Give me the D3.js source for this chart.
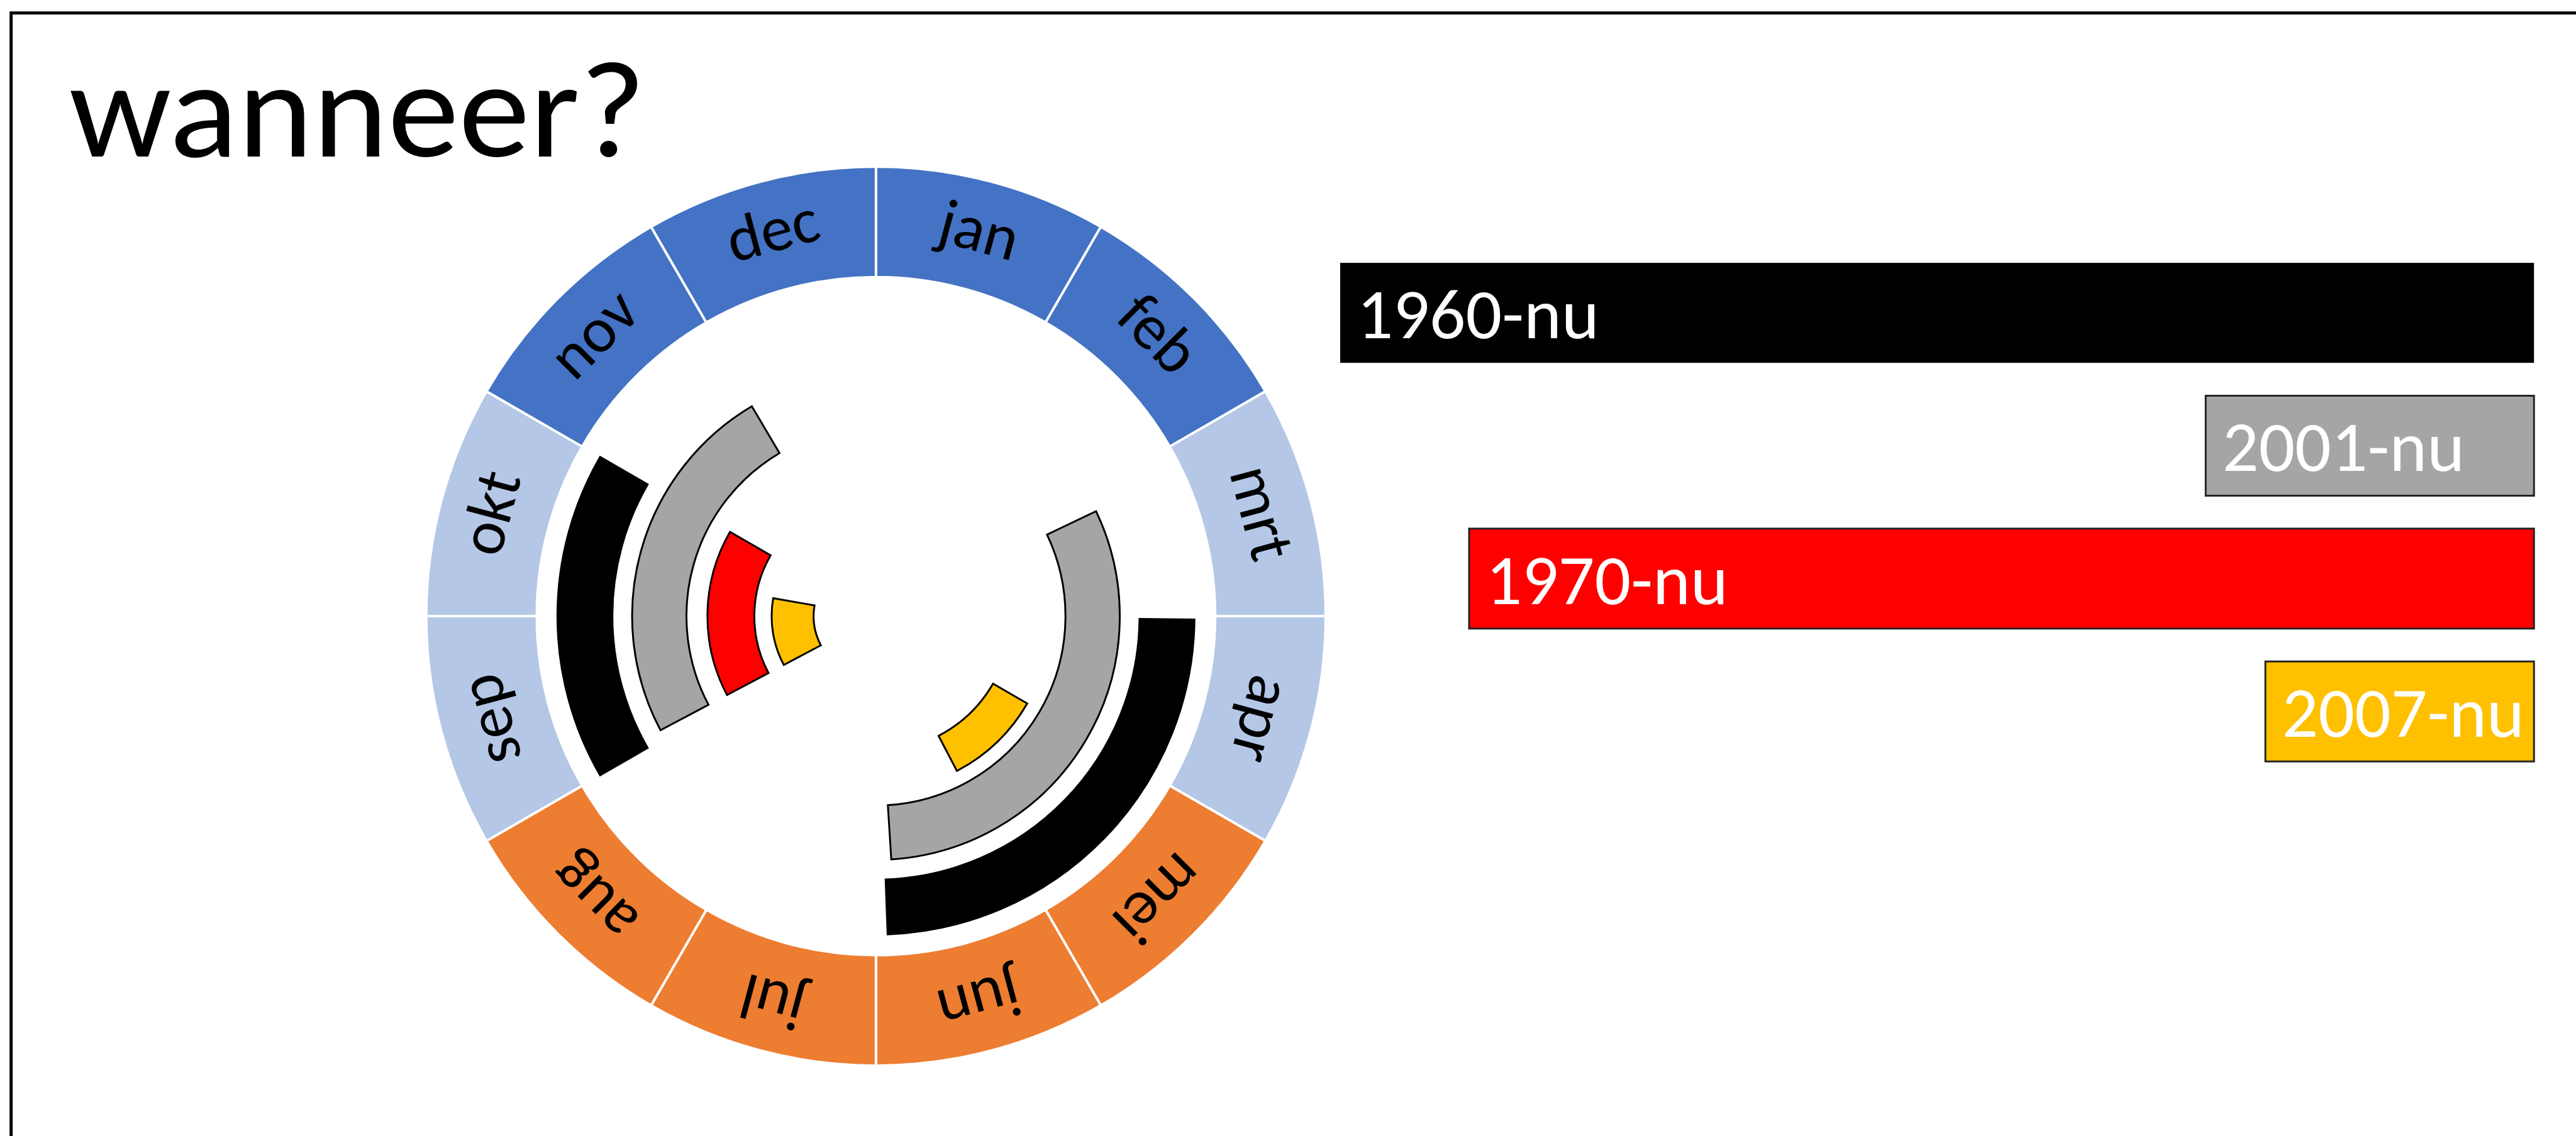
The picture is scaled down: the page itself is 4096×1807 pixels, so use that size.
<!DOCTYPE html>
<html>
<head>
<meta charset="utf-8">
<script src="https://cdn.jsdelivr.net/npm/d3@7"></script>
<style>
  html, body { margin: 0; padding: 0; background: #fff; overflow: hidden; }
  svg { display: block; }
  text { font-family: Carlito, Calibri, Lato, "Open Sans", sans-serif; }
</style>
</head>
<body>
<script>
// ---------------- data ----------------
const title = "wanneer?";
const months = ["jan","feb","mrt","apr","mei","jun","jul","aug","sep","okt","nov","dec"];
const monthGroup = ["dark","dark","light","light","orange","orange","orange","orange","light","light","dark","dark"];

// periods on the clock (in months: 0 = 1 jan, 12 = 31 dec)
const segSeries = ["1960-nu","1960-nu","2001-nu","2001-nu","1970-nu","2007-nu","2007-nu"];
const segStart  = [3.02, 8.0, 2.15, 8.07, 8.07, 4.0, 8.07];
const segEnd    = [5.93, 10.0, 5.88, 10.98, 10.0, 5.08, 9.33];
const segRing   = [0, 0, 1, 1, 2, 4, 3];

// legend bars
const legendNames  = ["1960-nu","2001-nu","1970-nu","2007-nu"];
const legendValues = [100, 27.5, 89.2, 22.5];

// ---------------- layout / style ----------------
const W = 4173, H = 1841;
const groupColor = { dark: "#4472C4", light: "#B4C7E7", orange: "#ED7D31" };
const seriesColor = { "1960-nu": "#000000", "2001-nu": "#A5A5A5", "1970-nu": "#FF0000", "2007-nu": "#FFC000" };
const cx = 1419, cy = 998.5;
const ringInnerR = [427, 307, 197, 101, 219];
const ringOuterR = [516, 395, 273, 169, 283];

const svg = d3.select("body").append("svg")
  .attr("width", 4096).attr("height", 1807)
  .attr("viewBox", `0 0 ${W} ${H}`);

svg.append("rect").attr("width", W).attr("height", H).attr("fill", "#fff");

// frame (extends beyond right & bottom edge)
svg.append("rect")
  .attr("x", 18).attr("y", 21).attr("width", 5000).attr("height", 5000)
  .attr("fill", "none").attr("stroke", "#000").attr("stroke-width", 5);

// title
svg.append("text")
  .attr("x", 112).attr("y", 254)
  .attr("font-size", 222)
  .attr("textLength", 934).attr("lengthAdjust", "spacingAndGlyphs")
  .attr("fill", "#000")
  .text(title);

// ---------------- clock ----------------
const angle = d3.scaleLinear().domain([0, 12]).range([0, 2 * Math.PI]);
const g = svg.append("g").attr("transform", `translate(${cx},${cy})`);

const ringArc = d3.arc().innerRadius(549.5).outerRadius(728.5);
const monthData = months.map((m, i) => ({ name: m, group: monthGroup[i], start: i, end: i + 1 }));

g.selectAll("path.month").data(monthData).join("path")
  .attr("class", "month")
  .attr("d", d => ringArc({ startAngle: angle(d.start), endAngle: angle(d.end) }))
  .attr("fill", d => groupColor[d.group])
  .attr("stroke", "#fff").attr("stroke-width", 4);

const midR = (549.5 + 728.5) / 2;
g.selectAll("text.month").data(monthData).join("text")
  .attr("class", "month")
  .attr("transform", d => {
    const a = angle((d.start + d.end) / 2);
    const deg = a * 180 / Math.PI;
    return `translate(${midR * Math.sin(a)},${-midR * Math.cos(a)}) rotate(${deg})`;
  })
  .attr("text-anchor", "middle")
  .attr("dy", "0.25em")
  .attr("font-size", 104)
  .attr("fill", "#000")
  .text(d => d.name);

const segData = segSeries.map((s, i) => ({ series: s, start: segStart[i], end: segEnd[i], ring: segRing[i] }));
const segArc = d3.arc();
g.selectAll("path.seg").data(segData).join("path")
  .attr("class", "seg")
  .attr("d", d => segArc({
    innerRadius: ringInnerR[d.ring], outerRadius: ringOuterR[d.ring],
    startAngle: angle(d.start), endAngle: angle(d.end)
  }))
  .attr("fill", d => seriesColor[d.series])
  .attr("stroke", "#000").attr("stroke-width", 3).attr("stroke-linejoin", "miter");

// ---------------- legend bars ----------------
const barRight = 4105;
const x = d3.scaleLinear().domain([0, 100]).range([0, 1934]);
const y = d3.scaleBand().domain(legendNames).range([426, 1234]).paddingInner(0.2476).paddingOuter(0);

const lg = svg.append("g");
lg.selectAll("rect").data(legendNames).join("rect")
  .attr("x", (d, i) => barRight - x(legendValues[i]))
  .attr("y", d => y(d))
  .attr("width", (d, i) => x(legendValues[i]))
  .attr("height", y.bandwidth())
  .attr("fill", d => seriesColor[d])
  .attr("stroke", d => d === "1960-nu" ? "none" : "#222")
  .attr("stroke-width", 3);

lg.selectAll("text").data(legendNames).join("text")
  .attr("x", (d, i) => barRight - x(legendValues[i]) + 27)
  .attr("y", d => y(d) + y.bandwidth() / 2 + 41)
  .attr("font-size", 116)
  .attr("fill", "#fff")
  .text(d => d);
</script>
</body>
</html>
